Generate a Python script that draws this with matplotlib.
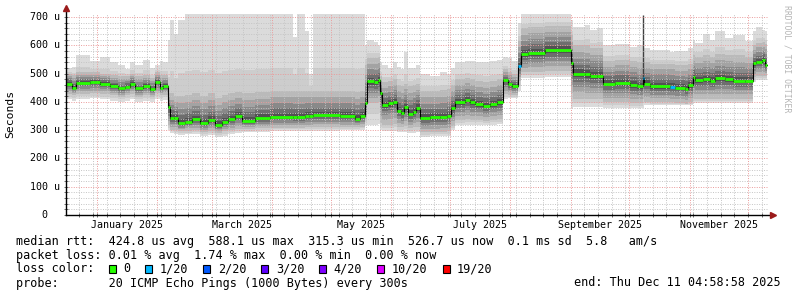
import numpy as np
import pandas as pd
import matplotlib
matplotlib.use("Agg")
import matplotlib.pyplot as plt
import matplotlib.dates as mdates
from matplotlib import transforms
from matplotlib.patches import Rectangle

W, H = 797, 297

t_start = pd.Timestamp("2024-12-16 05:00")
t_end = pd.Timestamp("2025-12-11 04:58:58")

# segment start, days after t_start (last entry closes the last segment)
seg_day = [0, 3.1, 5.1, 12.3, 17.4, 22.6, 26.7, 30.3, 32.8, 35.4,
           39.5, 43.1, 45.6, 48.2, 49.7, 52.3, 53.3, 55.4, 57.4, 61.0,
           64.6, 68.7, 72.8, 76.4, 80.0, 83.1, 86.7, 90.3, 96.9, 104.6,
           116.4, 118.5, 122.6, 124.6, 126.7, 140.5, 148.2, 150.8, 153.3, 154.4,
           158.0, 160.0, 161.0, 162.1, 165.1, 167.7, 169.7, 171.8, 173.3, 175.4,
           177.9, 179.5, 181.5, 186.7, 191.8, 195.4, 197.4, 199.5, 204.6, 207.2,
           209.7, 213.8, 217.4, 221.0, 224.1, 226.7, 228.7, 231.8, 233.3, 236.9,
           245.6, 259.0, 260.0, 266.2, 268.7, 272.3, 275.4, 281.5, 289.2, 292.8,
           295.9, 296.4, 299.5, 309.7, 312.3, 317.4, 319.0, 321.5, 322.6, 326.7,
           330.3, 332.8, 337.9, 342.1, 348.2, 352.3, 353.8, 356.9, 358.5, 359.3]

# median rtt, microseconds
median = [465, 451, 468, 471, 465, 456, 448, 454, 465, 448,
          456, 444, 471, 451, 456, 383, 342, 342, 324, 330,
          338, 324, 336, 318, 330, 338, 350, 333, 342, 347,
          345, 345, 350, 350, 352, 350, 340, 350, 395, 473,
          470, 477, 430, 389, 395, 400, 369, 360, 381, 357,
          365, 378, 343, 345, 346, 350, 378, 398, 406, 398,
          392, 385, 392, 398, 477, 462, 455, 528, 569, 574,
          583, 537, 500, 497, 493, 493, 465, 468, 460, 456,
          484, 465, 456, 454, 451, 446, 460, 489, 477, 480,
          475, 483, 480, 475, 475, 536, 542, 548, 530]

# smoke: lowest ping, inner band, highest ping
lo = [410, 405, 412, 415, 410, 405, 400, 405, 410, 400,
      405, 400, 412, 405, 408, 300, 290, 288, 282, 285,
      288, 280, 282, 275, 280, 285, 290, 292, 295, 298,
      298, 298, 298, 298, 298, 300, 300, 302, 318, 318,
      320, 322, 300, 296, 296, 298, 292, 292, 294, 290,
      290, 292, 277, 278, 278, 280, 300, 318, 320, 320,
      320, 320, 320, 322, 410, 413, 413, 440, 484, 486,
      488, 380, 383, 383, 383, 383, 377, 377, 377, 377,
      380, 389, 389, 389, 389, 389, 390, 395, 395, 395,
      395, 395, 395, 395, 395, 470, 477, 477, 477]

q_lo = [428, 423, 428, 430, 428, 423, 418, 423, 428, 418,
        423, 418, 430, 423, 426, 318, 302, 302, 296, 298,
        300, 294, 298, 290, 296, 300, 305, 303, 306, 308,
        308, 308, 310, 310, 310, 310, 310, 312, 338, 395,
        395, 400, 325, 318, 320, 322, 312, 310, 314, 306,
        310, 312, 292, 292, 294, 296, 315, 335, 338, 336,
        336, 334, 336, 338, 428, 425, 425, 475, 505, 507,
        510, 430, 412, 412, 410, 410, 398, 398, 396, 395,
        410, 400, 398, 398, 396, 394, 398, 410, 410, 410,
        410, 412, 412, 410, 410, 488, 492, 492, 492]

q_hi = [500, 495, 505, 505, 500, 495, 490, 492, 500, 490,
        495, 485, 505, 495, 495, 430, 430, 420, 420, 425,
        430, 420, 430, 415, 425, 430, 435, 430, 435, 440,
        440, 440, 440, 440, 440, 440, 435, 440, 530, 555,
        555, 560, 490, 470, 475, 480, 460, 455, 465, 455,
        460, 465, 440, 440, 442, 445, 460, 480, 485, 480,
        475, 470, 475, 480, 515, 505, 500, 615, 660, 665,
        670, 635, 600, 600, 590, 590, 545, 550, 545, 540,
        540, 540, 535, 535, 530, 530, 535, 565, 560, 565,
        560, 570, 565, 565, 560, 600, 610, 612, 605]

hi = [520, 525, 565, 545, 560, 540, 530, 515, 540, 530,
      550, 520, 530, 545, 540, 620, 690, 640, 690, 711,
      711, 711, 711, 711, 711, 711, 711, 711, 711, 711,
      630, 711, 650, 500, 711, 711, 711, 711, 600, 618,
      612, 600, 540, 530, 520, 540, 525, 515, 575, 520,
      520, 530, 500, 490, 505, 500, 520, 540, 545, 545,
      540, 540, 545, 548, 560, 555, 545, 680, 711, 711,
      711, 690, 665, 671, 655, 660, 600, 605, 595, 600,
      600, 590, 585, 575, 580, 580, 590, 620, 610, 640,
      620, 650, 625, 635, 615, 650, 664, 655, 650]

loss_seg = [67, 80, 83]      # segments where 1 of 20 pings was lost
spike_day = [296.0]
spike_lo = [484]
spike_hi = [707]

ytick_vals = [0, 100, 200, 300, 400, 500, 600, 700]
ytick_labels = ["  0", "100 u", "200 u", "300 u", "400 u", "500 u", "600 u", "700 u"]
label_months = ["2025-01", "2025-03", "2025-05", "2025-07", "2025-09", "2025-11"]

loss_labels = ["0", "1/20", "2/20", "3/20", "4/20", "10/20", "19/20"]
loss_colors = ["#26ff00", "#00b8ff", "#0059ff", "#5e00ff", "#7e00ff", "#dd00ff", "#ff0000"]

line_rtt = "median rtt:  424.8 us avg  588.1 us max  315.3 us min  526.7 us now  0.1 ms sd  5.8   am/s"
line_loss = "packet loss: 0.01 % avg  1.74 % max  0.00 % min  0.00 % now"
line_probe = "probe:       20 ICMP Echo Pings (1000 Bytes) every 300s"
line_end = "end: Thu Dec 11 04:58:58 2025"

MONO = "DejaVu Sans Mono"

fig = plt.figure(figsize=(W / 100, H / 100), dpi=100)
ax = fig.add_axes([66 / W, 1 - 215 / H, 702 / W, 201 / H])

edges = mdates.date2num(t_start + pd.to_timedelta(seg_day, unit="D"))
med = np.array(median, float)
lo_a, hi_a = np.array(lo, float), np.array(hi, float)
qlo_a, qhi_a = np.array(q_lo, float), np.array(q_hi, float)

def ext(a):
    a = np.asarray(a, float)
    return np.r_[a, a[-1]]

# smoke, light outside to dark near the median
ax.fill_between(edges, ext(lo_a), ext(hi_a), step="post", color="#dbdbdb", lw=0, zorder=1)
ax.fill_between(edges, ext(qlo_a - 0.5 * (qlo_a - lo_a)), ext(qhi_a + 0.3 * (hi_a - qhi_a)),
                step="post", color="#cdcdcd", lw=0, zorder=1.05)
layers = [(1.0, "#bababa"), (0.75, "#a3a3a3"), (0.52, "#898989"), (0.32, "#6e6e6e"), (0.15, "#525252")]
for f, c in layers:
    lower = med - f * (med - qlo_a)
    upper = med + f * (qhi_a - med)
    ax.fill_between(edges, ext(lower), ext(upper), step="post", color=c, lw=0, zorder=1.1)

sp = mdates.date2num(t_start + pd.to_timedelta(spike_day, unit="D"))
ax.vlines(sp, spike_lo, spike_hi, color="#404040", lw=1.0, zorder=1.2)

# median
ax.step(edges, ext(med), where="post", color="black", lw=0.8, zorder=3)
cols = [loss_colors[1] if i in loss_seg else loss_colors[0] for i in range(len(med))]
ax.hlines(med, edges[:-1], edges[1:], colors=cols, lw=2.0, zorder=4)

ax.set_xlim(mdates.date2num(t_start), mdates.date2num(t_end))
ax.set_ylim(0, 711)

ax.xaxis.set_major_locator(mdates.MonthLocator())
ax.xaxis.set_minor_locator(mdates.WeekdayLocator(byweekday=mdates.MO))
ax.set_yticks(ytick_vals)
ax.set_yticks(np.arange(0, 711, 20), minor=True)
ax.set_axisbelow(False)
ax.grid(which="minor", color="#c4c4c4", lw=0.7, ls=(0, (1, 1.5)), zorder=2)
ax.grid(which="major", color="#eb9a9a", lw=0.7, ls=(0, (1, 1.5)), zorder=2.1)
ax.tick_params(which="both", direction="inout", length=3, width=0.6, color="#555555",
               labelleft=False, labelbottom=False)
for s in ax.spines.values():
    s.set_visible(False)

# axes with arrows
ax.plot([0, 0], [0, 1.03], transform=ax.transAxes, color="black", lw=1, clip_on=False, zorder=5)
ax.plot([0, 1.007], [0, 0], transform=ax.transAxes, color="black", lw=1, clip_on=False, zorder=5)
ax.plot([0], [1.03], transform=ax.transAxes, marker="^", ms=4, color="#9b1b1b", clip_on=False, zorder=6)
ax.plot([1.007], [0], transform=ax.transAxes, marker=">", ms=4, color="#9b1b1b", clip_on=False, zorder=6)

# y labels
ty = transforms.blended_transform_factory(fig.transFigure, ax.transData)
for v, lab in zip(ytick_vals, ytick_labels):
    ax.text(30 / W, v, lab, transform=ty, ha="left", va="center", family=MONO, fontsize=7.2)

# month labels
tx = transforms.blended_transform_factory(ax.transData, fig.transFigure)
for m in label_months:
    m0 = pd.Timestamp(m + "-01")
    m1 = m0 + pd.offsets.MonthBegin(1)
    mid = mdates.date2num(m0 + (m1 - m0) / 2)
    ax.text(mid, 1 - 225 / H, m0.strftime("%B %Y"), transform=tx, ha="center", va="center",
            family=MONO, fontsize=7.2)

fig.text(10 / W, 1 - 114 / H, "Seconds", rotation=90, ha="center", va="center",
         family=MONO, fontsize=8.2)
fig.text(787 / W, 1 - 59 / H, "RRDTOOL / TOBI OETIKER", rotation=270, ha="center", va="center",
         family=MONO, fontsize=5.9, color="#b5b5b5")

# legend
fs = 8.5
fig.text(16 / W, 1 - 241 / H, line_rtt, ha="left", va="center", family=MONO, fontsize=fs)
fig.text(16 / W, 1 - 255 / H, line_loss, ha="left", va="center", family=MONO, fontsize=fs)
fig.text(16 / W, 1 - 269 / H, "loss color:", ha="left", va="center", family=MONO, fontsize=fs)
fig.text(16 / W, 1 - 283 / H, line_probe, ha="left", va="center", family=MONO, fontsize=fs)
fig.text(781 / W, 1 - 283 / H, line_end, ha="right", va="center", family=MONO, fontsize=fs)

cw = 7.14
x = 108.5
for lab, c in zip(loss_labels, loss_colors):
    fig.add_artist(Rectangle((x / W, 1 - 273 / H), 7 / W, 8 / H, transform=fig.transFigure,
                             facecolor=c, edgecolor="black", lw=0.8))
    fig.text((x + 14.5) / W, 1 - 269 / H, lab, ha="left", va="center", family=MONO, fontsize=fs)
    x += 14.5 + len(lab) * cw + 15

fig.savefig("out.png", dpi=100)
